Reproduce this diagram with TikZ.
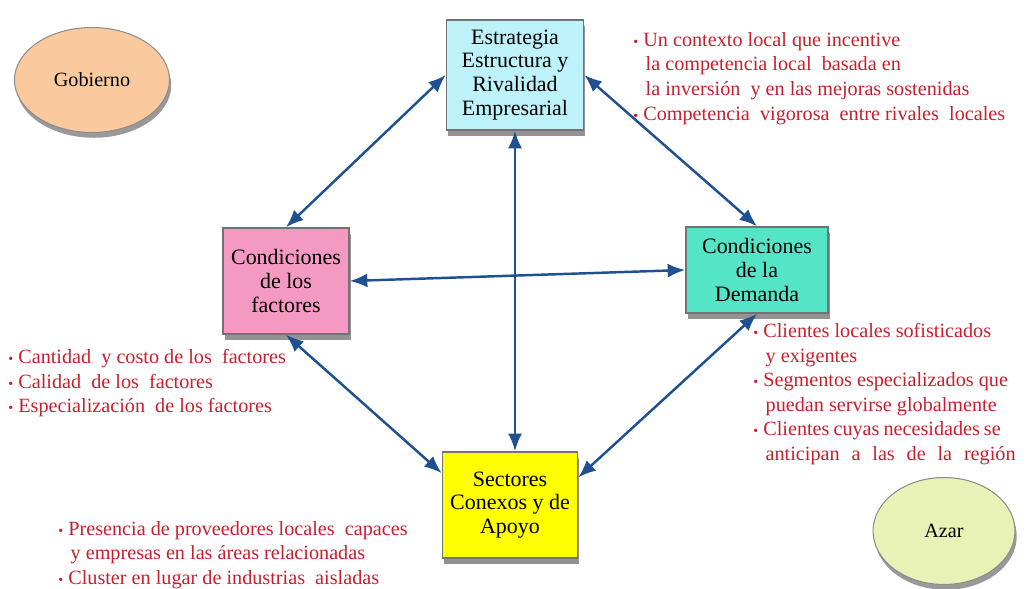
\documentclass[tikz,border=0pt]{standalone}
\usepackage{fontspec}
\setmainfont{Liberation Serif}
\newfontfamily\timesrm{Liberation Serif}
\usetikzlibrary{arrows.meta,shapes.geometric,shadows}
\definecolor{linkblue}{RGB}{31,80,145}
\definecolor{notered}{RGB}{200,30,45}
\definecolor{govpeach}{RGB}{250,202,158}
\definecolor{azargreen}{RGB}{232,242,182}
\definecolor{estrcyan}{RGB}{190,242,250}
\definecolor{factpink}{RGB}{244,154,194}
\definecolor{demteal}{RGB}{84,228,198}
\definecolor{sectyellow}{RGB}{255,255,0}
\def\itm{{\footnotesize\textbullet}\ }
\def\ind{\hspace*{7pt}}
\tikzset{
	factbox/.style={draw=black!55, line width=0.9pt, align=center,
		drop shadow={shadow xshift=1pt, shadow yshift=-3.5pt, opacity=0.85},
		font=\timesrm\fontsize{12.5}{13.6}\selectfont},
	oval/.style={ellipse, draw=black!45, line width=0.6pt,
		drop shadow={shadow xshift=1pt, shadow yshift=-3pt, opacity=0.8},
		font=\timesrm\fontsize{11.5}{13}\selectfont},
	link/.style={{Latex[length=10pt,width=8pt]}-{Latex[length=10pt,width=8pt]}, draw=linkblue, line width=1.4pt},
	note/.style={anchor=north west, inner sep=0pt, align=left, text=notered,
		font=\timesrm\fontsize{11.5}{14}\selectfont}
}

\begin{document}
\begin{tikzpicture}[x=0.02cm, y=-0.02cm]
		%%%%% START %%%%%
		
		\useasboundingbox (0, 0) rectangle (1026, 588);
		\clip (0, 0) rectangle (1026, 588);
		
		\node[oval, fill=govpeach, minimum width=3.1cm, minimum height=2.1cm] (gob) at (92, 80) {Gobierno};
		\node[oval, fill=azargreen, minimum width=2.84cm, minimum height=2.14cm] (azar) at (944, 531) {Azar};
		
		\node[factbox, fill=estrcyan, minimum width=2.74cm, minimum height=2.2cm] (estr) at (515, 75) {Estrategia\\Estructura y\\Rivalidad\\Empresarial};
		\node[factbox, fill=factpink, minimum width=2.52cm, minimum height=2.12cm] (fact) at (286, 281) {Condiciones\\de los\\factores};
		\node[factbox, fill=demteal, minimum width=2.84cm, minimum height=1.72cm] (dem) at (757, 270) {Condiciones\\de la\\Demanda};
		\node[factbox, fill=sectyellow, minimum width=2.7cm, minimum height=2.12cm] (sect) at (510, 505) {Sectores\\Conexos y de\\Apoyo};
		
		\draw[link] (estr.west) -- (fact.north);
		\draw[link] (estr.east) -- (dem.north);
		\draw[link] (estr.south) -- (estr.south |- sect.north);
		\draw[link] (fact.east) -- (dem.west);
		\draw[link] (fact.south) -- (sect.155);
		\draw[link] (dem.south) -- (sect.22);
		
		\node[note] (estrnote) at (633, 32) {\itm Un contexto local que incentive\\
			\ind la competencia local \ basada en\\
			\ind la inversión \ y en las mejoras sostenidas\\
			\itm Competencia \ vigorosa \ entre rivales \ locales};
		\node[note] (factnote) at (8, 349) {\itm Cantidad \ y costo de los \ factores\\
			\itm Calidad \ de los \ factores\\
			\itm Especialización \ de los factores};
		\node[note] (demnote) at (753, 323) {\itm Clientes locales sofisticados\\
			\ind y exigentes\\
			\itm Segmentos especializados que\\
			\ind puedan servirse globalmente\\
			\itm \makebox[4.75cm][s]{Clientes cuyas necesidades se}\\
			\ind\makebox[5.0cm][s]{anticipan a las de la región}};
		\node[note] (sectnote) at (58, 521) {\itm Presencia de proveedores locales \ capaces\\
			\ind y empresas en las áreas relacionadas\\
			\itm Cluster en lugar de industrias \ aisladas};
		
		%%%%% END %%%%%
	\end{tikzpicture}
\end{document}
